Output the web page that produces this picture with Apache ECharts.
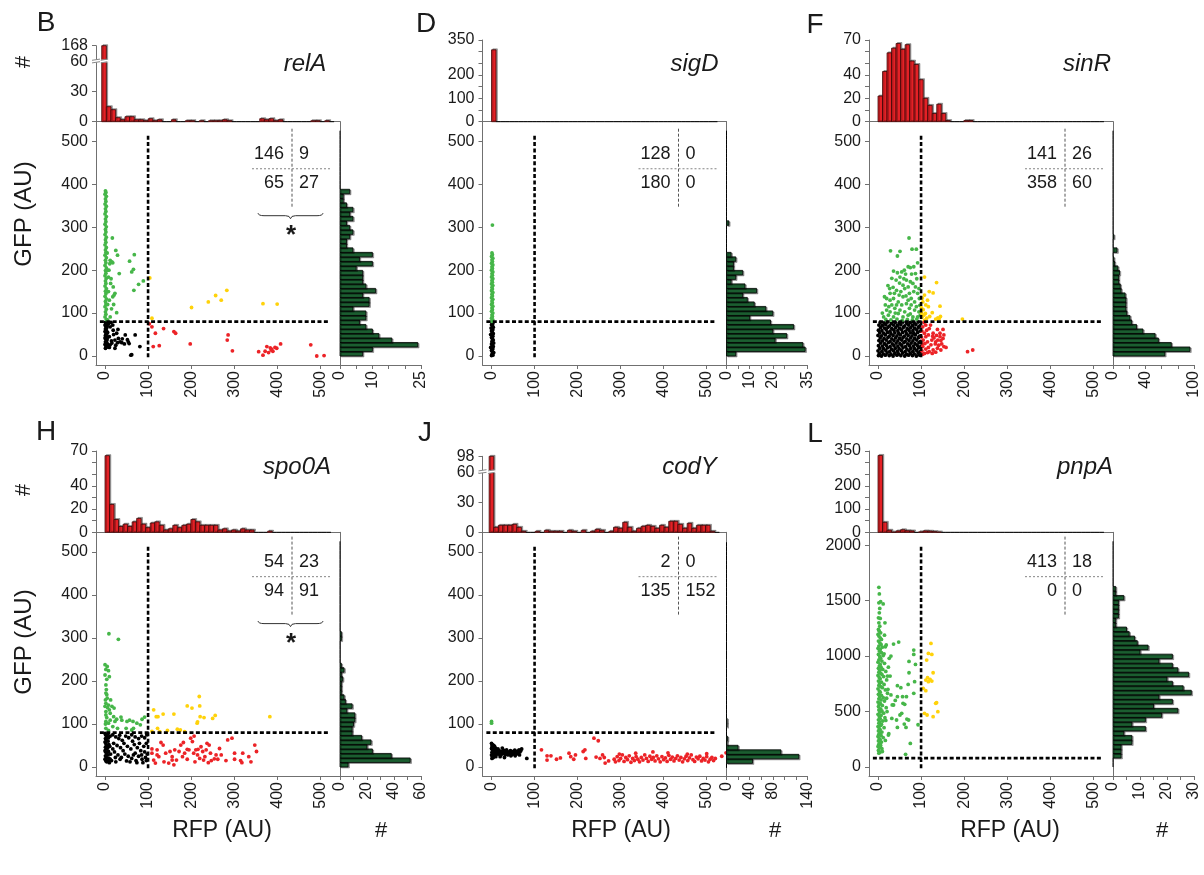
<!DOCTYPE html>
<html><head><meta charset="utf-8">
<script src="https://cdn.jsdelivr.net/npm/echarts@6/dist/echarts.min.js"></script>
<style>html,body{margin:0;padding:0;background:#fff}#c{width:1204px;height:875px}</style>
</head><body><div id="c"></div>
<script>
// ---------------- DATA ----------------
const rfpThreshold = 100, gfpThreshold = 80;
const scatterRange = [-21, 546];
const pnpA_yRange = [-81, 2116];
const scatterTicks = [0, 100, 200, 300, 400, 500];
const pnpA_yTicks = [0, 500, 1000, 1500, 2000];

// quadrant counts: [GFP+ RFP-, GFP+ RFP+, GFP- RFP-, GFP- RFP+]
const relA_quad = [146, 9, 65, 27];
const sigD_quad = [128, 0, 180, 0];
const sinR_quad = [141, 26, 358, 60];
const spo0A_quad = [54, 23, 94, 91];
const codY_quad = [2, 0, 135, 152];
const pnpA_quad = [413, 18, 0, 0];

// histogram bins: [start, width]; counts
const relA_rfpBins = [-7.7, 10.8];
const relA_rfpHist = [168,15,12,4,2,5,5,2,2,1, 3,1,2,0,0,2,0,0,1,1, 0,1,0,1,1,1,2,1,0,0, 0,0,0,0,3,2,3,1,2,0, 0,0,0,0,0,1,1,0,1,0];
const relA_gfpBins = [0, 10.5];
const relA_gfpHist = [7,10,24,16,12,10,8,6,8,8, 4,9,9,7,11,8,7,7,7,5, 10,6,10,4,2,2,3,4,3,2, 4,3,4,2,1,1,3,0,0,0, 0,0,0,0,0,0,0,0,0,0];
const sigD_rfpBins = [0, 10.5];
const sigD_rfpHist = [308,0,0,0,0,0,0,0,0,0, 0,0,0,0,0,0,0,0,0,0, 0,0,0,0,0,0,0,0,0,0, 0,0,0,0,0,0,0,0,0,0, 0,0,0,0,0,0,0,0,0,0];
const sigD_gfpBins = [0, 10.5];
const sigD_gfpHist = [4,34,33,21,26,20,29,19,10,20, 17,12,9,7,13,8,2,4,7,3, 3,4,2,0,0,0,0,0,0,1, 0,0,0,0,0,0,0,0,0,0, 0,0,0,0,0,0,0,0,0,0];
const sinR_rfpBins = [0, 10.5];
const sinR_rfpHist = [22,43,59,63,67,62,66,52,49,36, 20,14,7,15,7,1,0,0,0,1, 1,0,0,0,0,0,0,0,0,0, 0,0,0,0,0,0,0,0,0,0, 0,0,0,0,0,0,0,0,0,0];
const sinR_gfpBins = [0, 10.5];
const sinR_gfpHist = [64,95,72,56,52,37,29,23,21,17, 16,16,16,15,10,9,7,7,8,6, 2,1,0,5,0,0,1,0,0,0, 0,0,0,0,0,0,0,0,0,0, 0,0,0,0,0,0,0,0,0,0];
const spo0A_rfpBins = [0, 10.5];
const spo0A_rfpHist = [66,24,11,5,7,5,9,12,7,4, 8,9,6,2,3,6,4,6,7,11, 9,6,6,6,6,2,3,1,2,1, 3,2,2,0,0,0,1,0,0,0, 0,0,0,0,0,0,0,0,0,0];
const spo0A_gfpBins = [0, 10.5];
const spo0A_gfpHist = [6,52,38,24,20,23,16,9,9,10, 11,11,5,9,4,3,1,1,1,2, 1,3,1,0,0,0,0,0,1,1, 0,0,0,0,0,0,0,0,0,0, 0,0,0,0,0,0,0,0,0,0];
const codY_rfpBins = [-5.5, 10.7];
const codY_rfpHist = [98,5,7,7,7,8,5,1,0,0, 1,0,2,1,1,1,0,2,1,0, 2,0,1,3,2,0,1,5,4,10, 5,1,4,6,7,6,4,7,5,11, 11,8,4,9,4,7,7,7,1,0];
const codY_gfpBins = [-2.1, 10.5];
const codY_gfpHist = [0,45,125,94,20,1,2,0,0,1, 1,0,0,0,0,0,0,0,0,0, 0,0,0,0,0,0,0,0,0,0, 0,0,0,0,0,0,0,0,0,0, 0,0,0,0,0,0,0,0,0,0];
const pnpA_rfpBins = [0, 10.5];
const pnpA_rfpHist = [331,43,9,1,6,11,7,6,0,2, 6,5,3,1,0,0,0,0,0,0, 0,0,0,0,0,0,0,0,0,0, 0,0,0,0,0,0,0,0,0,0, 0,0,0,0,0,0,0,0,0,0];
const pnpA_gfpBins = [0, 40.7];
const pnpA_gfpHist = [0,0,3,3,3,7,7,4,12,7, 12,18,24,15,22,17,29,26,22,20, 28,24,22,17,22,10,13,9,8,6, 5,1,1,2,2,2,2,4,1,1, 0,0,0,0,0,0,0,0,0,0];

// histogram axis ticks / labels
const relA_topTicks = [0,30,60,76], relA_topLabels = [0,30,60,76], relA_topBreakLabel = '168';
const codY_topTicks = [0,30,60,76], codY_topLabels = [0,30,60,76], codY_topBreakLabel = '98';
const top350Ticks = [0,50,100,150,200,250,300,350], top350Labels = [0,100,200,350];
const top70Ticks = [0,10,20,30,40,50,60,70], top70Labels = [0,20,40,70];
const relA_rightTicks = [0,5,10,15,20,25], relA_rightLabels = [0,10,25];
const sigD_rightTicks = [0,5,10,15,20,25,30,35], sigD_rightLabels = [0,10,20,30,35];
const sinR_rightTicks = [0,20,40,60,80,100], sinR_rightLabels = [0,40,100];
const spo0A_rightTicks = [0,10,20,30,40,50,60], spo0A_rightLabels = [0,20,40,60];
const codY_rightTicks = [0,20,40,60,80,100,120,140], codY_rightLabels = [0,40,80,140];
const pnpA_rightTicks = [0,5,10,15,20,25,30], pnpA_rightLabels = [0,10,20,30];

// scatter points [RFP, GFP]
const relA_points = [
[1,385],[2,381],[0,377],[3,372],[1,366],[2,360],[0,354],[3,349],[1,343],[2,337],[0,331],[3,325],[1,319],[2,313],[0,307],[3,301],[1,295],[2,289],[0,283],[3,277],[1,271],[2,265],[0,259],[3,253],[1,247],[2,241],[0,235],[3,229],[1,223],[2,217],[0,211],[3,205],[1,199],[2,193],[0,187],[3,181],[1,175],[2,169],[0,163],[3,157],[1,151],[2,145],[0,139],[3,133],[1,127],[2,121],[0,115],[3,109],[1,103],[2,97],[0,91],[3,85],[5,240],[6,200],[5,150],[6,120],
[17,275],[25,246],[29,235],[12,223],[16,219],[11,215],[18,217],[68,236],[57,221],[66,202],[62,196],[33,192],[8,184],[19,161],[13,169],[23,146],[18,138],[21,142],[67,153],[78,167],[89,175],[27,101],[12,91],[6,84],[10,130],[15,110],[8,150],[20,120],[9,200],[14,180],
[104,182],[109,88],[201,113],[240,126],[257,141],[270,130],[283,153],[367,122],[400,121],
[109,68],[117,53],[112,22],[126,24],[136,64],[160,57],[164,53],[198,28],[286,49],[284,37],[296,12],[357,10],[367,2],[372,11],[376,22],[384,19],[386,14],[390,11],[399,18],[408,28],[478,26],[492,0],[509,1],[387,16],[395,20],[380,8],[103,75],
[1,78],[3,75],[0,72],[2,69],[4,66],[1,63],[3,60],[0,57],[2,54],[4,51],[1,48],[3,45],[0,42],[2,39],[4,36],[1,33],[3,30],[0,27],[2,24],[4,21],[1,18],[5,70],[6,55],[5,40],[6,28],[7,22],
[12,68],[19,60],[27,53],[31,41],[23,37],[29,31],[35,33],[39,31],[47,49],[54,33],[56,29],[70,49],[23,18],[12,26],[81,22],[60,2],[62,3],[10,45],[15,35],[20,50],[25,25],[40,40],[8,75],[14,78],[18,72],[30,62],[45,28],[52,38],[10,20],[16,30]
];
const sigD_points = [
[1,240],[2,236],[0,232],[3,228],[1,224],[2,220],[0,216],[3,212],[1,208],[2,204],[0,200],[3,196],[1,192],[2,188],[0,184],[3,180],[1,176],[2,172],[0,168],[3,164],[1,160],[2,156],[0,152],[3,148],[1,144],[2,140],[0,136],[3,132],[1,128],[2,124],[0,120],[3,116],[1,112],[2,108],[0,104],[3,100],[1,96],[2,92],[0,88],[3,84],[1,81],[2,305],
[1,79],[3,76],[0,73],[2,70],[4,67],[1,64],[3,61],[0,58],[2,55],[4,52],[1,49],[3,46],[0,43],[2,40],[4,37],[1,34],[3,31],[0,28],[2,25],[4,22],[1,19],[3,16],[0,13],[2,10],[4,7],[1,4],[3,2],[0,1],[5,30],[5,8],[-2,50],[-2,20],[-1,65]
];
const sinR_points = [
[72,275],[29,245],[51,244],[79,249],[89,249],[45,233],[92,217],[70,208],[75,206],[83,208],[61,200],[36,198],[45,194],[55,196],[64,191],[78,191],[87,192],[23,164],[27,157],[43,153],[53,150],[62,157],[70,161],[81,169],[87,161],[92,146],[95,157],[15,138],[20,134],[28,130],[36,134],[47,126],[58,138],[70,130],[77,134],[85,126],[96,134],[20,107],[28,103],[39,111],[51,107],[62,103],[73,111],[85,107],[95,103],[13,91],[24,95],[36,91],[47,99],[58,91],[70,95],[81,91],[92,91],[42,177],[51,184],[32,181],[66,177],[75,173],[58,165],[28,146],[38,146],[49,142],[73,146],[83,150],[66,122],[43,119],[32,119],[17,119],[55,119],[77,119],[89,115],[10,100],[18,85],[30,84],[44,86],[56,83],[68,85],[80,84],[90,86],[98,95],[97,118],[35,160],[60,180],[90,180],[25,115],[65,140],[40,100],[75,98],[50,170],
[108,184],[136,171],[119,150],[128,147],[108,142],[104,126],[111,119],[144,116],[105,108],[117,115],[126,101],[110,99],[102,90],[113,88],[139,89],[142,87],[196,86],[134,86],[103,135],[101,112],[106,95],[120,92],[145,92],[115,130],[101,100],[108,83],
[104,68],[111,72],[119,64],[138,62],[151,62],[108,53],[117,49],[128,53],[144,45],[151,41],[105,37],[115,33],[125,37],[134,33],[146,36],[153,22],[158,20],[104,22],[111,16],[119,10],[128,14],[138,18],[146,14],[108,6],[115,8],[134,9],[208,10],[220,14],[123,26],[133,28],[111,45],[144,53],[153,49],[126,6],[139,37],[102,58],[101,44],[103,28],[102,12],[107,78],[113,60],[122,72],[130,42],[141,25],[148,28],[104,4],[117,20],[127,46],[136,48],[109,29],
[5,78],[14,77],[22,79],[31,76],[40,78],[49,77],[58,79],[67,76],[75,78],[84,77],[93,79],
[2,72],[10,71],[18,73],[27,70],[36,72],[45,71],[53,73],[62,70],[71,72],[80,71],[88,73],[97,70],
[6,66],[15,65],[23,67],[32,64],[41,66],[50,65],[59,67],[68,64],[76,66],[85,65],[94,67],
[1,60],[9,59],[19,61],[28,58],[37,60],[46,59],[55,61],[64,58],[72,60],[81,59],[90,61],[98,58],
[4,54],[13,53],[22,55],[30,52],[39,54],[48,53],[57,55],[66,52],[75,54],[83,53],[92,55],
[0,48],[8,47],[17,49],[26,46],[35,48],[44,47],[52,49],[61,46],[70,48],[79,47],[87,49],[96,46],
[5,42],[14,41],[23,43],[32,40],[41,42],[50,41],[58,43],[67,40],[76,42],[85,41],[94,43],
[2,36],[10,35],[19,37],[28,34],[37,36],[46,35],[55,37],[63,34],[72,36],[81,35],[90,37],[99,34],
[6,30],[15,29],[24,31],[33,28],[42,30],[51,29],[60,31],[69,28],[77,30],[86,29],[95,31],
[1,24],[10,23],[19,25],[28,22],[37,24],[46,23],[55,25],[64,22],[73,24],[82,23],[91,25],[99,22],
[4,18],[13,17],[22,19],[31,16],[40,18],[49,17],[58,19],[67,16],[76,18],[85,17],[94,19],
[0,12],[9,11],[18,13],[27,10],[36,12],[45,11],[54,13],[63,10],[72,12],[81,11],[90,13],[98,10],
[3,6],[12,5],[21,7],[30,4],[39,6],[48,5],[57,7],[66,4],[75,6],[84,5],[93,7],
[1,1],[8,0],[17,2],[26,1],[35,0],[44,2],[53,1],[62,0],[71,2],[80,1],[89,0],[97,2]
];
const spo0A_points = [
[9,310],[31,297],[0,238],[5,234],[2,227],[8,224],[0,214],[10,210],[4,204],[2,191],[2,172],[4,168],[5,160],[1,156],[13,156],[2,148],[8,144],[16,141],[21,137],[10,133],[2,129],[0,141],[2,121],[20,117],[27,111],[12,109],[2,106],[8,102],[23,106],[37,116],[39,109],[51,106],[57,109],[65,106],[74,102],[86,111],[82,98],[92,116],[66,90],[49,90],[62,86],[29,90],[18,94],[2,90],[8,85],[1,100],[4,115],[12,125],[6,138],[3,180],
[113,133],[119,117],[123,117],[135,123],[122,90],[127,82],[160,123],[168,88],[191,142],[202,137],[214,102],[219,164],[220,142],[221,117],[230,115],[250,113],[256,120],[383,117],[185,82],[145,85],[109,83],[215,105],[175,86],
[109,32],[113,16],[117,9],[125,24],[130,57],[135,51],[141,32],[148,9],[156,16],[162,40],[156,24],[160,5],[172,36],[182,57],[185,32],[180,24],[191,18],[195,40],[199,67],[203,59],[207,72],[211,40],[206,32],[215,28],[220,20],[223,47],[227,36],[232,24],[237,55],[242,51],[245,32],[247,15],[254,19],[262,18],[266,43],[281,15],[285,63],[295,67],[301,18],[315,15],[318,10],[334,24],[339,12],[348,51],[352,36],[121,40],[109,42],[176,51],[166,16],[191,41],[216,41],[151,36],[137,12],[229,16],[235,40],[121,28],[258,28],[270,28],[301,32],[209,12],[240,10],[320,32],
[0,78],[2,74],[4,70],[1,66],[3,62],[0,58],[2,54],[4,50],[1,46],[3,42],[0,38],[2,34],[4,30],[1,26],[3,22],[0,18],[2,14],[4,12],[6,76],[8,68],[7,60],[9,52],[6,44],[8,36],[7,28],[9,20],[6,14],[10,10],[12,72],[11,48],[13,30],[12,18],
[18,75],[25,70],[32,66],[40,62],[48,72],[55,68],[62,75],[70,70],[78,66],[85,72],[92,68],[97,75],[20,55],[28,50],[36,45],[44,55],[52,48],[60,42],[68,52],[75,45],[83,38],[90,48],[96,55],[22,35],[30,28],[38,22],[46,30],[54,25],[62,20],[70,32],[78,25],[86,18],[94,22],[98,30],[15,15],[25,12],[35,18],[58,12],[72,15],[88,10],[18,42],[42,38],[66,28],[80,55],[92,35],[50,14],[64,60],[34,74],[24,22],[85,28],[96,15],[74,10]
];
const codY_points = [
[0,106],[0,102],
[0,55],[2,52],[1,49],[3,46],[0,43],[2,40],[4,37],[1,34],[3,31],[0,28],[2,25],[4,22],[1,20],[5,50],[6,45],[7,40],[5,35],[6,30],[8,26],[7,48],[9,38],[8,33],[10,43],[12,30],[11,36],[10,24],
[14,35],[16,30],[18,38],[20,33],[22,28],[24,36],[26,31],[28,39],[30,34],[32,29],[34,37],[36,32],[38,28],[40,35],[42,30],[44,38],[46,33],[48,29],[50,36],[52,31],[54,39],[56,34],[58,30],[60,37],[62,33],[64,40],[66,35],[68,38],[70,42],[15,42],[25,44],[35,40],[45,26],[55,26],[65,28],[20,24],[30,22],[82,20],
[116,40],[129,16],[129,26],[138,26],[151,18],[160,21],[180,32],[184,24],[191,18],[195,28],[213,36],[217,40],[219,20],[238,67],[248,61],[243,23],[252,20],[258,28],[264,9],
[285,18],[288,12],[292,24],[296,15],[300,20],[304,28],[308,13],[312,22],[316,17],[320,26],[324,11],[328,20],[332,15],[336,24],[340,18],[344,12],[348,22],[352,16],[356,28],[360,20],[364,13],[368,25],[372,18],[376,22],[380,14],[384,26],[388,19],[392,12],[396,24],[400,17],[404,21],[408,13],[412,27],[416,18],[420,23],[424,14],[428,20],[432,26],[436,16],[440,22],[444,12],[448,19],[452,25],[456,15],[460,21],[464,28],[468,17],[472,13],[476,23],[480,19],[484,25],[488,14],[492,20],[496,16],[500,24],[504,12],[508,18],[512,22],[516,15],[520,20],[297,30],[335,32],[375,35],[410,33],[455,30],[500,31],[535,25],[545,33],[262,22],[272,14]
];
const pnpA_points = [
[2,1620],[3,1560],[6,1490],[2,1480],[4,1430],[3,1390],[1,1345],[5,1340],[2,1300],[4,1270],[1,1240],[3,1225],[6,1210],[0,1195],[2,1180],[5,1165],[8,1150],[1,1135],[4,1120],[7,1105],[2,1090],[10,1080],[0,1070],[5,1060],[3,1045],[8,1030],[1,1015],[12,1005],[4,995],[6,980],[2,965],[9,955],[0,945],[15,935],[5,925],[3,910],[7,900],[1,890],[11,880],[4,870],[18,862],[2,855],[6,845],[9,835],[0,825],[13,815],[3,805],[5,795],[20,785],[1,775],[8,765],[4,755],[14,745],[2,735],[6,725],[10,715],[0,705],[17,695],[3,685],[5,675],[22,665],[1,655],[8,645],[4,635],[12,625],[2,615],[7,605],[15,595],[0,585],[5,575],[3,565],[10,555],[1,545],[19,535],[6,525],[2,515],[9,505],[4,495],[13,485],[0,475],[7,465],[3,455],[16,445],[5,435],[1,425],[11,415],[4,405],[2,395],[8,385],[6,375],[0,365],[14,355],[3,345],[5,335],[1,325],[9,315],[4,305],[2,295],[7,285],[0,275],[12,265],[3,255],[5,245],[1,235],[8,225],[4,215],[2,205],[6,195],[0,185],[3,175],[9,165],[1,150],[5,135],[2,125],[10,140],[17,240],[21,500],[23,700],[24,900],[19,1100],[16,1300],[12,1470],[20,620],[22,820],[18,420],[25,300],[14,1020],
[36,1108],[48,1126],[83,1054],[83,1015],[72,952],[87,925],[72,850],[85,769],[45,733],[53,715],[70,745],[45,634],[57,634],[66,634],[58,574],[62,565],[83,664],[36,559],[55,484],[51,469],[67,432],[71,424],[43,424],[61,387],[65,357],[45,357],[93,381],[75,213],[64,114],[32,438],[24,288],[17,1084],[15,1189],[30,650],[28,820],[26,980],[33,560],[40,600],[30,1000],
[123,1114],[117,1024],[125,1015],[113,964],[128,850],[111,784],[117,769],[121,790],[115,805],[125,775],[105,709],[111,688],[136,580],[134,574],[139,499],[108,484],[114,469],[128,454]
];

// ---------------- LAYOUT ----------------
const colLeft = [96, 482.5, 869];
const rowBase = [121.7, 532.3];
const rowBottom = [365, 776];
const SW = 244, RW = 81;
const FONT = '"Liberation Sans", Arial, Helvetica, sans-serif';
const AX = '#707070', TXT = '#1a1a1a';

const panels = [
 {letter:'B', lpos:[46,23], gene:'relA', gx:209, row:0, col:0, pts:relA_points, quad:relA_quad, brace:true,
  rfp:relA_rfpHist, rfpB:relA_rfpBins, gfp:relA_gfpHist, gfpB:relA_gfpBins, yR:scatterRange, yT:scatterTicks, vLine:[-3,518],
  topH:76, topMax:76, topT:relA_topTicks, topL:relA_topLabels, brk:60.7, brkLabel:relA_topBreakLabel,
  rMax:25, rT:relA_rightTicks, rL:relA_rightLabels},
 {letter:'D', lpos:[426,24], gene:'sigD', gx:212, row:0, col:1, pts:sigD_points, quad:sigD_quad, brace:false,
  rfp:sigD_rfpHist, rfpB:sigD_rfpBins, gfp:sigD_gfpHist, gfpB:sigD_gfpBins, yR:scatterRange, yT:scatterTicks, vLine:[-3,518],
  topH:81.7, topMax:350, topT:top350Ticks, topL:top350Labels,
  rMax:35, rT:sigD_rightTicks, rL:sigD_rightLabels},
 {letter:'F', lpos:[815,25], gene:'sinR', gx:218, row:0, col:2, pts:sinR_points, quad:sinR_quad, brace:false,
  rfp:sinR_rfpHist, rfpB:sinR_rfpBins, gfp:sinR_gfpHist, gfpB:sinR_gfpBins, yR:scatterRange, yT:scatterTicks, vLine:[-3,518],
  topH:81.7, topMax:70, topT:top70Ticks, topL:top70Labels,
  rMax:100, rT:sinR_rightTicks, rL:sinR_rightLabels},
 {letter:'H', lpos:[46,432], gene:'spo0A', gx:201, row:1, col:0, pts:spo0A_points, quad:spo0A_quad, brace:true,
  rfp:spo0A_rfpHist, rfpB:spo0A_rfpBins, gfp:spo0A_gfpHist, gfpB:spo0A_gfpBins, yR:scatterRange, yT:scatterTicks, vLine:[-3,518],
  topH:81.3, topMax:70, topT:top70Ticks, topL:top70Labels,
  rMax:60, rT:spo0A_rightTicks, rL:spo0A_rightLabels},
 {letter:'J', lpos:[425,433], gene:'codY', gx:207, row:1, col:1, pts:codY_points, quad:codY_quad, brace:false,
  rfp:codY_rfpHist, rfpB:codY_rfpBins, gfp:codY_gfpHist, gfpB:codY_gfpBins, yR:scatterRange, yT:scatterTicks, vLine:[-3,518],
  topH:76, topMax:76, topT:codY_topTicks, topL:codY_topLabels, brk:60.7, brkLabel:codY_topBreakLabel,
  rMax:140, rT:codY_rightTicks, rL:codY_rightLabels},
 {letter:'L', lpos:[815,434], gene:'pnpA', gx:216, row:1, col:2, pts:pnpA_points, quad:pnpA_quad, brace:false,
  rfp:pnpA_rfpHist, rfpB:pnpA_rfpBins, gfp:pnpA_gfpHist, gfpB:pnpA_gfpBins, yR:pnpA_yRange, yT:pnpA_yTicks, vLine:[-12,2000],
  topH:81.3, topMax:350, topT:top350Ticks, topL:top350Labels,
  rMax:30, rT:pnpA_rightTicks, rL:pnpA_rightLabels}
];

const cats = [
 {color:'#000000', test:(x,y)=>x<rfpThreshold && y<gfpThreshold},
 {color:'#46B649', test:(x,y)=>x<rfpThreshold && y>=gfpThreshold},
 {color:'#FFD20A', test:(x,y)=>x>=rfpThreshold && y>=gfpThreshold},
 {color:'#EC2327', test:(x,y)=>x>=rfpThreshold && y<gfpThreshold}
];

const grids=[], xAxes=[], yAxes=[], series=[], gr=[];

function axis(gi, dim, range, ticks, labels, fmt){
  return {gridIndex:gi, type:'value', min:range[0], max:range[1], position: dim==='x'?'bottom':'left',
    axisLine:{show:true, onZero:false, lineStyle:{color:AX, width:1}},
    axisTick: ticks ? {show:true, customValues:ticks, length:4, lineStyle:{color:AX, width:1}} : {show:false},
    axisLabel: labels ? {show:true, customValues:labels, fontSize:16, fontFamily:FONT, color:TXT, hideOverlap:false,
        showMinLabel:true, showMaxLabel:true,
        margin: dim==='x'?6:8, rotate: dim==='x'?90:0, formatter: fmt || (v=>String(v))} : {show:false},
    splitLine:{show:false}, splitArea:{show:false}};
}
function bins(b, counts){ return counts.map((c,k)=>[b[0]+k*b[1], b[0]+(k+1)*b[1], c]); }
const shadow = {shadowColor:'rgba(0,0,0,0.35)', shadowBlur:0};

function topHist(gi, p){
  const max=p.topMax, brk=p.brk;
  return {type:'custom', xAxisIndex:gi, yAxisIndex:gi, silent:true, z:3, data:bins(p.rfpB,p.rfp), encode:{x:[0,1], y:2},
    renderItem:(params, api)=>{
      const x0=api.value(0), x1=api.value(1), c=api.value(2);
      const a=api.coord([x0,0]), b=api.coord([x1,Math.min(c,max)]);
      if(!c) return {type:'line', shape:{x1:a[0],y1:a[1],x2:b[0],y2:a[1]}, style:{stroke:'#000', lineWidth:1}};
      const ch=[{type:'rect', shape:{x:a[0], y:b[1], width:b[0]-a[0], height:a[1]-b[1]},
        style:Object.assign({fill:'#E42126', stroke:'#3a0505', lineWidth:0.8, shadowOffsetX:1.3, shadowOffsetY:-1}, shadow)}];
      if(c>max && brk){
        const gl=api.coord([-21,0])[0];
        const yA=api.coord([0,brk+1.3])[1], yB=api.coord([0,brk-1.3])[1];
        ch.push({type:'rect', shape:{x:gl-4, y:yA, width:b[0]+2-(gl-4), height:yB-yA}, style:{fill:'#fff'}, z2:5});
        [yA,yB].forEach(yy=>{
          ch.push({type:'line', shape:{x1:gl-4,y1:yy+0.6,x2:gl+4,y2:yy-0.6}, style:{stroke:'#888',lineWidth:1}, z2:6});
          ch.push({type:'line', shape:{x1:a[0]-1,y1:yy+0.6,x2:b[0]+1,y2:yy-0.6}, style:{stroke:'#888',lineWidth:1}, z2:6});
        });
      }
      return {type:'group', children:ch};
    }};
}
function rightHist(gi, p){
  const max=p.rMax;
  return {type:'custom', xAxisIndex:gi, yAxisIndex:gi, silent:true, z:3, data:bins(p.gfpB,p.gfp), encode:{y:[0,1], x:2},
    renderItem:(params, api)=>{
      const y0=api.value(0), y1=api.value(1), c=api.value(2);
      const a=api.coord([0,y0]), b=api.coord([Math.min(c,max),y1]);
      if(!c) return {type:'line', shape:{x1:a[0],y1:a[1],x2:a[0],y2:b[1]}, style:{stroke:'#000', lineWidth:1}};
      return {type:'rect', shape:{x:a[0], y:b[1], width:b[0]-a[0], height:a[1]-b[1]},
        style:Object.assign({fill:'#1B5E30', stroke:'#000', lineWidth:0.8, shadowOffsetX:1.3, shadowOffsetY:1}, shadow)};
    }};
}
function txt(x,y,text,font,align,extra){
  return Object.assign({type:'text', x, y, silent:true, z:50,
    style:{text, font, fill:TXT, align, verticalAlign:'middle', textAlign:align, textVerticalAlign:'middle'}}, extra||{});
}
function braceEls(xa, xb, y0){
  const xc=(xa+xb)/2, ym=y0+2.5, yt=y0+5.5, st={stroke:'#333', lineWidth:1, fill:'none'};
  return [
   {type:'bezierCurve', shape:{x1:xa,y1:y0,x2:xa+6,y2:ym,cpx1:xa+0.5,cpy1:ym}, style:st},
   {type:'line', shape:{x1:xa+6,y1:ym,x2:xc-5,y2:ym}, style:st},
   {type:'bezierCurve', shape:{x1:xc-5,y1:ym,x2:xc,y2:yt,cpx1:xc-0.5,cpy1:ym}, style:st},
   {type:'bezierCurve', shape:{x1:xc,y1:yt,x2:xc+5,y2:ym,cpx1:xc+0.5,cpy1:ym}, style:st},
   {type:'line', shape:{x1:xc+5,y1:ym,x2:xb-6,y2:ym}, style:st},
   {type:'bezierCurve', shape:{x1:xb-6,y1:ym,x2:xb,y2:y0,cpx1:xb-0.5,cpy1:ym}, style:st}
  ].map(e=>Object.assign(e,{silent:true,z:50}));
}

panels.forEach(p=>{
  const L=colLeft[p.col], T=rowBase[p.row], H=rowBottom[p.row]-T;
  const gi=grids.length;
  const g={containLabel:false, outerBoundsMode:'none'};
  grids.push(Object.assign({left:L, top:T, width:SW, height:H}, g));
  grids.push(Object.assign({left:L, top:T-p.topH, width:SW, height:p.topH}, g));
  grids.push(Object.assign({left:L+SW, top:T, width:RW, height:H}, g));
  xAxes.push(axis(gi,'x',scatterRange,scatterTicks,scatterTicks));
  yAxes.push(axis(gi,'y',p.yR,p.yT,p.yT));
  xAxes.push(axis(gi+1,'x',scatterRange,null,null));
  const bl=p.brkLabel, mx=p.topMax;
  yAxes.push(axis(gi+1,'y',[0,p.topMax],p.topT,p.topL, v=> (bl && v===mx) ? bl : String(v)));
  xAxes.push(axis(gi+2,'x',[0,p.rMax],p.rT,p.rL));
  yAxes.push(axis(gi+2,'y',p.yR,null,null));

  cats.forEach(c=>{
    series.push({type:'scatter', xAxisIndex:gi, yAxisIndex:gi, silent:true, symbol:'circle', symbolSize:3.8,
      itemStyle:{color:c.color, opacity:1}, data:p.pts.filter(d=>c.test(d[0],d[1]))});
  });
  const dash={color:'#000', width:2.6, type:[4,2.4]};
  series.push({type:'line', xAxisIndex:gi, yAxisIndex:gi, silent:true, showSymbol:false, symbol:'none', z:4,
    lineStyle:dash, data:[[rfpThreshold,p.vLine[0]],[rfpThreshold,p.vLine[1]]]});
  series.push({type:'line', xAxisIndex:gi, yAxisIndex:gi, silent:true, showSymbol:false, symbol:'none', z:4,
    lineStyle:dash, data:[[-12,gfpThreshold],[518,gfpThreshold]]});
  series.push(topHist(gi+1,p));
  series.push(rightHist(gi+2,p));

  const s = p.row===0 ? 0 : -2.7;
  const nf='18px '+FONT;
  gr.push({type:'line', silent:true, z:50, shape:{x1:L+196,y1:T+7+s,x2:L+196,y2:T+86+s}, style:{stroke:'#555',lineWidth:1,lineDash:[3,2]}});
  gr.push({type:'line', silent:true, z:50, shape:{x1:L+156,y1:T+47+s,x2:L+235,y2:T+47+s}, style:{stroke:'#999',lineWidth:1.2,lineDash:[2,2]}});
  gr.push(txt(L+188, T+32.5+s, String(p.quad[0]), nf, 'right'));
  gr.push(txt(L+203, T+32.5+s, String(p.quad[1]), nf, 'left'));
  gr.push(txt(L+188, T+61.5+s, String(p.quad[2]), nf, 'right'));
  gr.push(txt(L+203, T+61.5+s, String(p.quad[3]), nf, 'left'));
  if(p.brace){
    braceEls(L+162, L+227, T+91.5+s).forEach(e=>gr.push(e));
    gr.push(txt(L+195, T+114+s, '*', 'bold 26px '+FONT, 'center'));
  }
  gr.push(txt(L+p.gx, p.row===0?64:467, p.gene, 'italic 24px '+FONT, 'center'));
  gr.push(txt(p.lpos[0], p.lpos[1], p.letter, '28px '+FONT, 'center'));
});

const rot = {rotation:Math.PI/2};
gr.push(txt(24, 62, '#', '22px '+FONT, 'center', rot));
gr.push(txt(24, 490, '#', '22px '+FONT, 'center', rot));
gr.push(txt(24, 214, 'GFP (AU)', '24px '+FONT, 'center', rot));
gr.push(txt(24, 642, 'GFP (AU)', '24px '+FONT, 'center', rot));
[222, 621, 1010].forEach(x=>gr.push(txt(x, 831, 'RFP (AU)', '23px '+FONT, 'center')));
[381, 775, 1162].forEach(x=>gr.push(txt(x, 831, '#', '22px '+FONT, 'center')));

const chart = echarts.init(document.getElementById('c'), null, {renderer:'canvas'});
chart.setOption({animation:false, backgroundColor:'#fff', grid:grids, xAxis:xAxes, yAxis:yAxes, series, graphic:{elements:gr}});
</script></body></html>
